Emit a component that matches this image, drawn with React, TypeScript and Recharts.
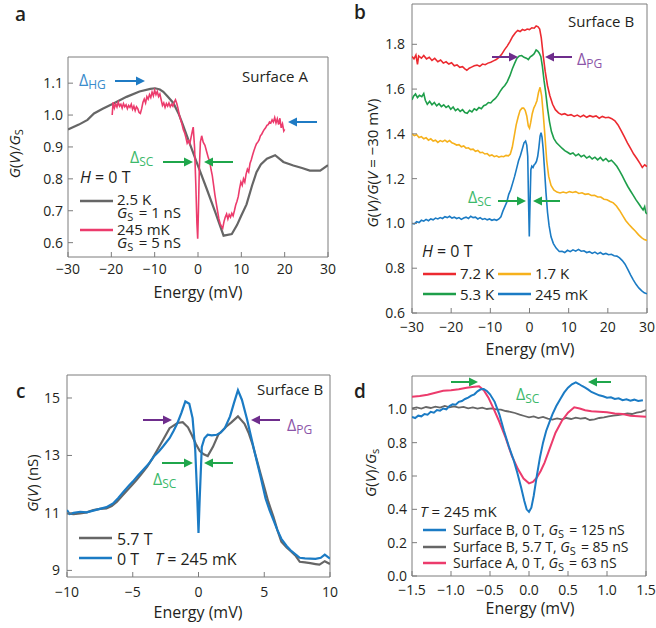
import React from 'react';
import { LineChart, Line, XAxis, YAxis, ReferenceArea } from 'recharts';

const FONT = '"Open Sans", "Noto Sans", sans-serif';
const AXIS = '#7c7c7c';
const INK = '#231f20';

const GRAY = '#666666';
const PINK = '#ec3b6c';
const RED = '#ec2a30';
const GREEN = '#1e9e4a';
const ORANGE = '#f6b11c';
const BLUE = '#1b7bc4';
const ARROW_GREEN = '#1fa64b';
const TEXT_GREEN = '#3cb96b';
const ARROW_PURPLE = '#6e2d8c';
const TEXT_PURPLE = '#8b55a8';
const ARROW_BLUE = '#1f7bc4';
const TEXT_BLUE = '#3a8ccc';

// panel a: Surface A, H = 0 T
const a25K = [[-30,0.955],[-27.5,0.97],[-25.5,0.985],[-24,1.005],[-22,1.02],[-19.5,1.036],[-16.5,1.057],[-13.5,1.074],[-11,1.082],[-9.9,1.084],[-8.8,1.08],[-8,1.073],[-7,1.058],[-5.7,1.038],[-4.5,1.005],[-3.5,0.97],[-2.6,0.936],[-0.3,0.852],[2,0.769],[4,0.695],[5.9,0.622],[7.8,0.627],[9,0.655],[10,0.685],[11.2,0.72],[12.5,0.78],[13.5,0.821],[14.5,0.845],[15.9,0.863],[17.8,0.874],[19.7,0.853],[22,0.842],[24,0.834],[25.8,0.826],[28.2,0.826],[30,0.843]];
const a245mK = [[-19.8,1.0],[-19.6,1.04],[-19.3,1.022],[-19,1.035],[-18.7,1.025],[-18.4,1.04],[-18.1,1.028],[-17.8,1.034],[-17.5,1.022],[-17.2,1.036],[-16.9,1.026],[-16.6,1.032],[-16.3,1.02],[-16,1.03],[-15.7,1.024],[-15.4,1.034],[-15.1,1.018],[-14.8,1.028],[-14.5,1.014],[-14.2,1.026],[-13.9,1.02],[-13.6,1.008],[-13.3,1.005],[-13,1.02],[-12.7,1.04],[-12.4,1.05],[-12.1,1.038],[-11.8,1.058],[-11.5,1.05],[-11.2,1.064],[-10.9,1.055],[-10.6,1.072],[-10.3,1.06],[-10,1.078],[-9.7,1.064],[-9.4,1.074],[-9.1,1.058],[-8.8,1.066],[-8.5,1.048],[-8.2,1.03],[-7.9,1.038],[-7.6,1.024],[-7.3,1.036],[-7,1.028],[-6.7,1.038],[-6.4,1.026],[-6.1,1.034],[-5.8,1.028],[-5.5,1.04],[-5.2,1.048],[-4.9,1.036],[-4.6,1.02],[-4.3,1.0],[-4,0.985],[-3.7,0.972],[-3.4,0.955],[-3.1,0.945],[-2.8,0.93],[-2.5,0.912],[-2.2,0.92],[-1.9,0.91],[-1.6,0.93],[-1.3,0.95],[-1.1,0.962],[-0.8,0.9],[-0.5,0.78],[-0.25,0.66],[-0.07,0.612],[0.1,0.7],[0.3,0.83],[0.55,0.915],[0.85,0.935],[1.2,0.915],[1.6,0.905],[2.0,0.885],[2.4,0.865],[2.7,0.855],[3.0,0.83],[3.3,0.81],[3.6,0.78],[3.9,0.75],[4.2,0.725],[4.5,0.7],[4.8,0.676],[5.1,0.66],[5.4,0.652],[5.7,0.645],[6.0,0.666],[6.3,0.68],[6.6,0.69],[6.9,0.674],[7.2,0.688],[7.5,0.68],[7.8,0.692],[8.1,0.684],[8.4,0.7],[8.7,0.718],[9.0,0.73],[9.3,0.745],[9.6,0.77],[9.9,0.79],[10.2,0.78],[10.5,0.8],[10.8,0.79],[11.1,0.815],[11.4,0.83],[11.7,0.822],[12,0.848],[12.3,0.86],[12.6,0.875],[12.9,0.888],[13.2,0.9],[13.5,0.91],[13.8,0.915],[14.1,0.922],[14.4,0.935],[14.7,0.94],[15,0.948],[15.3,0.955],[15.6,0.96],[15.9,0.968],[16.2,0.97],[16.5,0.978],[16.8,0.975],[17.1,0.985],[17.4,0.978],[17.7,0.992],[18,0.975],[18.3,0.988],[18.6,0.97],[18.9,0.99],[19.2,0.96],[19.5,0.972],[19.8,0.95],[20,0.955]];

// panel b: Surface B, temperature series
const b72K = [[-30,1.745],[-29.5,1.735],[-29,1.752],[-28.6,1.71],[-28.3,1.748],[-27.6,1.738],[-27,1.75],[-26.3,1.735],[-25.6,1.742],[-24.9,1.728],[-24.2,1.737],[-23.4,1.722],[-22.7,1.73],[-22,1.716],[-21.3,1.722],[-20.6,1.712],[-19.9,1.718],[-19.2,1.704],[-18.5,1.708],[-17.8,1.697],[-17.1,1.7],[-16.5,1.69],[-16,1.684],[-15.4,1.693],[-14.8,1.698],[-14.1,1.704],[-13.4,1.707],[-12.7,1.702],[-12,1.712],[-11.3,1.709],[-10.6,1.716],[-9.9,1.72],[-9.2,1.726],[-8.5,1.732],[-7.8,1.742],[-7.1,1.755],[-6.4,1.775],[-5.7,1.792],[-5,1.812],[-4.3,1.835],[-3.6,1.852],[-3,1.862],[-2.4,1.857],[-1.8,1.866],[-1.2,1.862],[-0.6,1.868],[0,1.866],[0.6,1.874],[1.2,1.872],[1.7,1.882],[2.2,1.878],[2.6,1.868],[3,1.83],[3.5,1.75],[4,1.68],[4.6,1.615],[5.2,1.57],[5.9,1.532],[6.6,1.508],[7.4,1.494],[8.2,1.486],[9,1.49],[9.8,1.482],[10.6,1.486],[11.4,1.478],[12.2,1.484],[13,1.476],[13.8,1.483],[14.6,1.474],[15.4,1.481],[16.2,1.476],[17,1.48],[17.8,1.47],[18.6,1.478],[19.4,1.472],[20.2,1.474],[21,1.468],[21.8,1.458],[22.6,1.44],[23.4,1.415],[24.2,1.388],[25,1.36],[25.8,1.335],[26.6,1.31],[27.4,1.29],[28.2,1.268],[28.8,1.25],[29.4,1.262],[30,1.254]];
const b53K = [[-30,1.552],[-29.6,1.568],[-29.1,1.578],[-28.6,1.562],[-28.1,1.572],[-27.5,1.566],[-27,1.58],[-26.6,1.55],[-26.1,1.532],[-25.5,1.545],[-24.9,1.53],[-24.3,1.54],[-23.7,1.525],[-23.1,1.535],[-22.5,1.522],[-21.9,1.53],[-21.3,1.518],[-20.7,1.525],[-20.1,1.51],[-19.5,1.52],[-18.9,1.504],[-18.3,1.512],[-17.7,1.5],[-17.1,1.508],[-16.5,1.495],[-15.9,1.492],[-15.3,1.505],[-14.7,1.498],[-14.1,1.512],[-13.5,1.506],[-12.9,1.518],[-12.3,1.512],[-11.7,1.526],[-11.1,1.53],[-10.5,1.54],[-9.9,1.538],[-9.3,1.55],[-8.7,1.558],[-8.1,1.572],[-7.5,1.59],[-6.9,1.605],[-6.3,1.616],[-5.7,1.632],[-5,1.66],[-4.4,1.69],[-3.8,1.715],[-3.2,1.738],[-2.6,1.748],[-2,1.75],[-1.4,1.742],[-0.8,1.738],[-0.3,1.732],[0.2,1.744],[0.7,1.75],[1.2,1.758],[1.7,1.775],[2.1,1.77],[2.5,1.76],[2.9,1.745],[3.3,1.7],[3.7,1.64],[4.1,1.59],[4.6,1.515],[5.1,1.455],[5.6,1.41],[6.2,1.38],[6.9,1.36],[7.6,1.348],[8.3,1.336],[9,1.325],[9.7,1.318],[10.4,1.31],[11.1,1.315],[11.8,1.302],[12.5,1.31],[13.2,1.298],[13.9,1.305],[14.6,1.292],[15.3,1.3],[16,1.288],[16.7,1.296],[17.4,1.284],[18.1,1.295],[18.8,1.28],[19.5,1.29],[20.2,1.276],[20.9,1.282],[21.6,1.27],[22.3,1.255],[23,1.235],[23.7,1.212],[24.4,1.188],[25.1,1.165],[25.8,1.145],[26.5,1.125],[27.2,1.105],[27.9,1.088],[28.5,1.072],[29,1.06],[29.4,1.075],[29.7,1.048],[30,1.042]];
const b17K = [[-30,1.4],[-29.4,1.392],[-28.8,1.396],[-28.2,1.384],[-27.6,1.388],[-27,1.378],[-26.4,1.383],[-25.8,1.372],[-25.2,1.378],[-24.6,1.368],[-24,1.372],[-23.4,1.362],[-22.8,1.37],[-22.2,1.365],[-21.6,1.372],[-21,1.364],[-20.4,1.37],[-19.8,1.36],[-19.2,1.356],[-18.6,1.35],[-18,1.352],[-17.4,1.342],[-16.8,1.346],[-16.2,1.336],[-15.6,1.338],[-15,1.33],[-14.4,1.332],[-13.8,1.322],[-13.2,1.326],[-12.6,1.316],[-12,1.318],[-11.4,1.31],[-10.8,1.312],[-10.2,1.302],[-9.6,1.306],[-9,1.298],[-8.4,1.302],[-7.8,1.296],[-7.2,1.3],[-6.6,1.298],[-6,1.304],[-5.4,1.302],[-4.9,1.31],[-4.4,1.34],[-3.9,1.39],[-3.4,1.44],[-2.9,1.475],[-2.4,1.505],[-1.9,1.515],[-1.5,1.515],[-1.1,1.505],[-0.7,1.48],[-0.3,1.435],[0,1.425],[0.3,1.45],[0.7,1.49],[1.1,1.515],[1.5,1.53],[1.9,1.548],[2.3,1.585],[2.7,1.608],[3.1,1.57],[3.5,1.49],[3.9,1.4],[4.4,1.28],[4.9,1.21],[5.5,1.17],[6.2,1.15],[7,1.14],[7.8,1.136],[8.6,1.14],[9.4,1.136],[10.2,1.142],[11,1.138],[11.8,1.142],[12.6,1.134],[13.4,1.137],[14.2,1.13],[15,1.132],[15.8,1.125],[16.6,1.126],[17.4,1.118],[18.2,1.118],[19,1.108],[19.8,1.106],[20.6,1.098],[21.4,1.092],[22.2,1.078],[23,1.058],[23.8,1.035],[24.6,1.012],[25.4,0.995],[26.2,0.98],[27,0.966],[27.8,0.95],[28.6,0.937],[29.3,0.928],[30,0.924]];
const b245mK = [[-30,1.0],[-29.4,0.998],[-28.8,1.008],[-28.2,1.004],[-27.6,1.014],[-27,1.01],[-26.4,1.018],[-25.8,1.012],[-25.2,1.02],[-24.6,1.016],[-24,1.024],[-23.4,1.02],[-22.8,1.026],[-22.2,1.022],[-21.6,1.03],[-21,1.026],[-20.4,1.032],[-19.8,1.024],[-19.2,1.028],[-18.6,1.022],[-18,1.026],[-17.4,1.018],[-16.8,1.024],[-16.2,1.028],[-15.6,1.022],[-15,1.032],[-14.4,1.026],[-13.8,1.028],[-13.2,1.02],[-12.6,1.026],[-12,1.018],[-11.4,1.022],[-10.8,1.016],[-10.2,1.02],[-9.6,1.014],[-9,1.018],[-8.4,1.014],[-7.8,1.02],[-7.3,1.03],[-6.8,1.055],[-6.3,1.075],[-5.8,1.095],[-5.3,1.13],[-4.8,1.15],[-4.3,1.18],[-3.8,1.21],[-3.3,1.245],[-2.8,1.28],[-2.3,1.305],[-1.8,1.335],[-1.4,1.36],[-1,1.368],[-0.7,1.35],[-0.45,1.3],[-0.25,1.1],[-0.05,0.942],[0.15,1.1],[0.35,1.24],[0.6,1.256],[0.9,1.25],[1.2,1.262],[1.5,1.268],[1.8,1.278],[2.1,1.3],[2.4,1.34],[2.7,1.39],[2.95,1.405],[3.2,1.385],[3.5,1.33],[3.8,1.25],[4.2,1.14],[4.6,1.05],[5.0,0.99],[5.5,0.94],[6.1,0.91],[6.8,0.89],[7.6,0.875],[8.3,0.876],[9,0.87],[9.7,0.88],[10.4,0.874],[11.1,0.882],[11.8,0.876],[12.5,0.884],[13.2,0.876],[13.9,0.878],[14.6,0.87],[15.3,0.874],[16,0.866],[16.7,0.872],[17.4,0.864],[18.1,0.87],[18.8,0.862],[19.5,0.866],[20.2,0.86],[20.9,0.862],[21.6,0.856],[22.3,0.854],[23,0.846],[23.7,0.834],[24.4,0.818],[25.1,0.795],[25.8,0.77],[26.5,0.748],[27.2,0.728],[27.9,0.712],[28.6,0.7],[29.3,0.69],[30,0.686]];

// panel c: Surface B, T = 245 mK, field series (nS)
const c57T = [[-10,10.98],[-9.5,10.96],[-9,10.98],[-8.5,11.02],[-8,11.1],[-7.5,11.14],[-7,11.16],[-6.6,11.24],[-6.2,11.39],[-5.8,11.6],[-5.4,11.8],[-5,12.0],[-4.7,12.15],[-4.3,12.38],[-3.9,12.61],[-3.5,12.9],[-3.2,13.14],[-2.7,13.54],[-2.2,13.95],[-1.6,14.13],[-1.2,14.16],[-0.8,13.98],[-0.5,13.7],[-0.2,13.4],[0.1,13.15],[0.4,13.04],[0.7,12.98],[1.1,13.3],[1.5,13.72],[2.1,14.0],[2.5,14.15],[3,14.36],[3.5,14.1],[3.8,13.8],[4.1,13.4],[4.4,12.9],[4.7,12.4],[5.0,11.9],[5.3,11.4],[5.7,10.86],[6.0,10.4],[6.3,10.0],[6.7,9.8],[7.0,9.68],[7.4,9.5],[7.7,9.3],[8.1,9.28],[8.5,9.25],[8.9,9.22],[9.2,9.2],[9.6,9.32],[10,9.22]];
const c0T = [[-10,11.1],[-9.8,10.96],[-9.5,11.0],[-9,11.04],[-8.5,11.02],[-8,11.08],[-7.5,11.14],[-7,11.2],[-6.5,11.33],[-6.1,11.52],[-5.7,11.74],[-5.3,11.95],[-5,12.09],[-4.6,12.3],[-4.2,12.5],[-3.8,12.7],[-3.4,12.96],[-3,13.15],[-2.7,13.31],[-2.2,13.6],[-1.9,13.85],[-1.6,14.13],[-1.3,14.48],[-1.0,14.88],[-0.7,14.8],[-0.45,14.3],[-0.25,13.2],[-0.1,11.6],[0,10.3],[0.1,11.6],[0.25,13.3],[0.45,13.6],[0.7,13.72],[1.0,13.7],[1.4,13.72],[1.7,13.8],[2.0,13.95],[2.4,14.36],[2.7,14.83],[3.0,15.27],[3.3,14.94],[3.7,14.24],[4.0,13.65],[4.3,13.05],[4.7,12.3],[5.1,11.5],[5.4,11.1],[5.7,10.75],[6.0,10.4],[6.3,10.1],[6.7,9.85],[7.0,9.7],[7.4,9.55],[7.7,9.44],[8.1,9.42],[8.5,9.41],[8.9,9.4],[9.3,9.44],[9.6,9.55],[9.8,9.48],[10,9.41]];

// panel d: normalized, T = 245 mK
const dB0T = [[-1.5,0.955],[-1.46,0.948],[-1.42,0.962],[-1.38,0.958],[-1.34,0.972],[-1.3,0.968],[-1.26,0.985],[-1.22,0.98],[-1.18,0.996],[-1.14,0.992],[-1.1,1.005],[-1.06,1.0],[-1.02,1.02],[-0.98,1.03],[-0.94,1.028],[-0.9,1.045],[-0.86,1.05],[-0.82,1.062],[-0.78,1.07],[-0.74,1.082],[-0.7,1.09],[-0.66,1.108],[-0.62,1.12],[-0.58,1.122],[-0.54,1.11],[-0.5,1.09],[-0.44,1.045],[-0.38,0.97],[-0.32,0.87],[-0.26,0.78],[-0.2,0.7],[-0.15,0.62],[-0.1,0.53],[-0.06,0.45],[-0.03,0.4],[0,0.385],[0.03,0.41],[0.06,0.48],[0.1,0.6],[0.14,0.71],[0.18,0.8],[0.22,0.87],[0.26,0.92],[0.3,0.97],[0.35,1.02],[0.4,1.06],[0.45,1.1],[0.5,1.13],[0.55,1.15],[0.6,1.162],[0.64,1.152],[0.68,1.14],[0.72,1.13],[0.76,1.118],[0.8,1.104],[0.85,1.094],[0.9,1.084],[0.95,1.078],[1.0,1.07],[1.05,1.072],[1.1,1.062],[1.15,1.066],[1.2,1.055],[1.25,1.06],[1.3,1.052],[1.35,1.058],[1.4,1.05],[1.46,1.055]];
const dB57T = [[-1.5,1.005],[-1.44,1.012],[-1.38,1.004],[-1.32,1.014],[-1.26,1.008],[-1.2,1.016],[-1.14,1.01],[-1.08,1.02],[-1.02,1.012],[-0.96,1.018],[-0.9,1.01],[-0.84,1.015],[-0.78,1.006],[-0.72,1.012],[-0.66,1.004],[-0.6,1.01],[-0.54,1.002],[-0.48,1.006],[-0.42,1.0],[-0.36,0.998],[-0.3,0.99],[-0.24,0.985],[-0.18,0.978],[-0.12,0.968],[-0.06,0.96],[0,0.952],[0.06,0.958],[0.12,0.948],[0.18,0.955],[0.24,0.944],[0.3,0.938],[0.36,0.946],[0.42,0.94],[0.48,0.948],[0.54,0.942],[0.6,0.95],[0.66,0.944],[0.72,0.948],[0.78,0.936],[0.84,0.94],[0.9,0.948],[0.96,0.952],[1.02,0.958],[1.08,0.962],[1.14,0.966],[1.2,0.97],[1.26,0.975],[1.32,0.972],[1.38,0.98],[1.44,0.985],[1.5,0.995]];
const dA0T = [[-1.5,1.075],[-1.4,1.08],[-1.3,1.088],[-1.2,1.1],[-1.1,1.112],[-1.0,1.115],[-0.9,1.12],[-0.8,1.13],[-0.7,1.135],[-0.64,1.138],[-0.58,1.115],[-0.52,1.07],[-0.46,1.01],[-0.39,0.936],[-0.3,0.83],[-0.22,0.72],[-0.14,0.64],[-0.07,0.585],[0,0.556],[0.05,0.565],[0.1,0.59],[0.15,0.63],[0.2,0.68],[0.27,0.77],[0.34,0.86],[0.42,0.93],[0.5,0.98],[0.58,1.012],[0.65,1.005],[0.72,0.995],[0.8,0.988],[0.9,0.985],[1.0,0.982],[1.1,0.975],[1.2,0.972],[1.3,0.962],[1.4,0.958],[1.5,0.955]];

const aXTicks = [-30, -20, -10, 0, 10, 20, 30];
const aYTicks = [0.6, 0.7, 0.8, 0.9, 1.0, 1.1];
const bXTicks = [-30, -20, -10, 0, 10, 20, 30];
const bYTicks = [0.6, 0.8, 1.0, 1.2, 1.4, 1.6, 1.8];
const cXTicks = [-10, -5, 0, 5, 10];
const cYTicks = [9, 11, 13, 15];
const dXTicks = [-1.5, -1.0, -0.5, 0, 0.5, 1.0, 1.5];
const dYTicks = [0, 0.2, 0.4, 0.6, 0.8, 1.0];

const pts = (arr: number[][]) => arr.map(([x, y]) => ({ x, y }));
const fmt = (v: number, d: number) => (v < 0 ? '\u2212' : '') + Math.abs(v).toFixed(d);

function XTick(props: any) {
  const { x, y, payload, dec, dy } = props;
  return (
    <g>
      <line x1={x} x2={x} y1={y} y2={y - 5} stroke={AXIS} />
      <text x={x} y={y + dy} textAnchor="middle" fontSize={14} fontFamily={FONT} fill={INK}>
        {fmt(payload.value, dec)}
      </text>
    </g>
  );
}

function YTick(props: any) {
  const { x, y, payload, dec, gap } = props;
  return (
    <g>
      <line x1={x} x2={x + 5} y1={y} y2={y} stroke={AXIS} />
      <text x={x - gap} y={y + 5} textAnchor="end" fontSize={14} fontFamily={FONT} fill={INK}>
        {fmt(payload.value, dec)}
      </text>
    </g>
  );
}

type Series = { name: string; data: number[][]; color: string; width?: number };

function Panel(p: any) {
  const s: Series[] = p.series;
  return (
    <div style={{ position: 'absolute', left: p.left, top: p.top }}>
      <LineChart width={p.width} height={p.height} margin={p.margin}>
        <XAxis
          type="number"
          dataKey="x"
          domain={p.xDomain}
          ticks={p.xTicks}
          interval={0}
          height={p.xHeight}
          axisLine={false}
          tickLine={false}
          tickSize={0}
          tickMargin={0}
          allowDataOverflow
          tick={(t: any) => <XTick {...t} dec={p.xDec} dy={p.xDy} />}
        />
        <YAxis
          type="number"
          dataKey="y"
          domain={p.yDomain}
          ticks={p.yTicks}
          interval={0}
          width={p.yWidth}
          axisLine={false}
          tickLine={false}
          tickSize={0}
          tickMargin={0}
          allowDataOverflow
          tick={(t: any) => <YTick {...t} dec={p.yDec} gap={p.yGap} />}
        />
        <ReferenceArea
          x1={p.xDomain[0]}
          x2={p.xDomain[1]}
          y1={p.yDomain[0]}
          y2={p.yDomain[1]}
          fill="none"
          stroke={AXIS}
          strokeWidth={1}
          ifOverflow="visible"
        />
        {s.map((ser) => (
          <Line
            key={ser.name}
            name={ser.name}
            data={pts(ser.data)}
            dataKey="y"
            type="linear"
            stroke={ser.color}
            strokeWidth={ser.width ?? 2}
            dot={false}
            activeDot={false}
            isAnimationActive={false}
          />
        ))}
      </LineChart>
    </div>
  );
}

function Arrow({ from, to, y, color }: { from: number; to: number; y: number; color: string }) {
  const dir = to > from ? 1 : -1;
  const head = 9;
  return (
    <g>
      <line x1={from} x2={to - dir * head} y1={y} y2={y} stroke={color} strokeWidth={2} />
      <polygon points={`${to},${y} ${to - dir * head},${y - 4.5} ${to - dir * head},${y + 4.5}`} fill={color} />
    </g>
  );
}

function Delta({ x, y, sub, color }: { x: number; y: number; sub: string; color: string }) {
  return (
    <text x={x} y={y} fill={color} fontSize={16} fontFamily={FONT}>
      Δ<tspan fontSize={12} dy={3}>{sub}</tspan>
    </text>
  );
}

function LegendLine({ x, y, color }: { x: number; y: number; color: string }) {
  return <line x1={x} x2={x + 33} y1={y} y2={y} stroke={color} strokeWidth={2.5} />;
}

const T = (props: any) => <text fontFamily={FONT} fill={INK} {...props} />;
const It = ({ children }: any) => <tspan fontStyle="italic">{children}</tspan>;
const Gs = ({ s = 'S' }: { s?: string }) => (
  <>
    <It>G</It>
    <tspan fontSize={11} dy={3}>{s}</tspan>
    <tspan dy={-3}>{'\u200a'}</tspan>
  </>
);

function Overlay() {
  return (
    <svg width={656} height={628} style={{ position: 'absolute', left: 0, top: 0, pointerEvents: 'none' }}>
      {/* panel letters */}
      <T x={15} y={21} fontSize={19} fontWeight={600}>a</T>
      <T x={354} y={19} fontSize={19} fontWeight={600}>b</T>
      <T x={16} y={398} fontSize={19} fontWeight={600}>c</T>
      <T x={354} y={398} fontSize={19} fontWeight={600}>d</T>

      {/* axis titles */}
      <T x={198} y={298} fontSize={16} textAnchor="middle">Energy (mV)</T>
      <T x={530} y={355} fontSize={16} textAnchor="middle">Energy (mV)</T>
      <T x={198} y={618} fontSize={16} textAnchor="middle">Energy (mV)</T>
      <T x={530} y={614} fontSize={16} textAnchor="middle">Energy (mV)</T>

      <T fontSize={15} textAnchor="middle" transform="translate(20,153) rotate(-90)">
        <It>G</It>(<It>V</It>)/<Gs />
      </T>
      <T fontSize={15} textAnchor="middle" transform="translate(378,163) rotate(-90)">
        <It>G</It>(<It>V</It>)/<It>G</It>(<It>V</It> = {'\u2212'}30 mV)
      </T>
      <T fontSize={15} textAnchor="middle" transform="translate(38,483) rotate(-90)">
        <It>G</It>(<It>V</It>) (nS)
      </T>
      <T fontSize={15} textAnchor="middle" transform="translate(376,472) rotate(-90)">
        <It>G</It>(<It>V</It>)/<Gs s="s" />
      </T>

      {/* panel a */}
      <T x={242} y={82} fontSize={15}>Surface A</T>
      <Delta x={79} y={86} sub="HG" color={TEXT_BLUE} />
      <Arrow from={115} to={145} y={81} color={ARROW_BLUE} />
      <Arrow from={317} to={288} y={122} color={ARROW_BLUE} />
      <Delta x={130} y={163} sub="SC" color={TEXT_GREEN} />
      <Arrow from={163} to={193} y={162} color={ARROW_GREEN} />
      <Arrow from={233} to={204} y={162} color={ARROW_GREEN} />
      <T x={80} y={183} fontSize={16}><It>H</It> = 0 T</T>
      <LegendLine x={80} y={201} color={GRAY} />
      <T x={117} y={205} fontSize={15}>2.5 K</T>
      <T x={117} y={218} fontSize={15}><Gs /> = 1 nS</T>
      <LegendLine x={80} y={230} color={PINK} />
      <T x={117} y={235} fontSize={15}>245 mK</T>
      <T x={117} y={248} fontSize={15}><Gs /> = 5 nS</T>

      {/* panel b */}
      <T x={568} y={27} fontSize={15}>Surface B</T>
      <Arrow from={492} to={518} y={57} color={ARROW_PURPLE} />
      <Arrow from={572} to={545} y={57} color={ARROW_PURPLE} />
      <Delta x={577} y={65} sub="PG" color={TEXT_PURPLE} />
      <Delta x={468} y={203} sub="SC" color={TEXT_GREEN} />
      <Arrow from={498} to={526} y={201} color={ARROW_GREEN} />
      <Arrow from={560} to={533} y={201} color={ARROW_GREEN} />
      <T x={422} y={257} fontSize={16}><It>H</It> = 0 T</T>
      <LegendLine x={423} y={274} color={RED} />
      <T x={460} y={279} fontSize={15}>7.2 K</T>
      <LegendLine x={498} y={274} color={ORANGE} />
      <T x={535} y={279} fontSize={15}>1.7 K</T>
      <LegendLine x={423} y={294} color={GREEN} />
      <T x={460} y={300} fontSize={15}>5.3 K</T>
      <LegendLine x={498} y={294} color={BLUE} />
      <T x={535} y={300} fontSize={15}>245 mK</T>

      {/* panel c */}
      <T x={257} y={395} fontSize={15}>Surface B</T>
      <Arrow from={143} to={172} y={420} color={ARROW_PURPLE} />
      <Arrow from={280} to={251} y={420} color={ARROW_PURPLE} />
      <Delta x={287} y={431} sub="PG" color={TEXT_PURPLE} />
      <Arrow from={162} to={193} y={463} color={ARROW_GREEN} />
      <Arrow from={233} to={204} y={463} color={ARROW_GREEN} />
      <Delta x={153} y={485} sub="SC" color={TEXT_GREEN} />
      <LegendLine x={79} y={538} color={GRAY} />
      <T x={117} y={545} fontSize={16}>5.7 T</T>
      <LegendLine x={79} y={558} color={BLUE} />
      <T x={117} y={565} fontSize={16}>0 T</T>
      <T x={155} y={565} fontSize={16}><It>T</It> = 245 mK</T>

      {/* panel d */}
      <Arrow from={451} to={478} y={382} color={ARROW_GREEN} />
      <Arrow from={611} to={588} y={382} color={ARROW_GREEN} />
      <Delta x={516} y={400} sub="SC" color={TEXT_GREEN} />
      <T x={420} y={517} fontSize={15}><It>T</It> = 245 mK</T>
      <line x1={423} x2={446} y1={530} y2={530} stroke={BLUE} strokeWidth={2.5} />
      <T x={453} y={535} fontSize={14}>Surface B, 0 T, <Gs /> = 125 nS</T>
      <line x1={423} x2={446} y1={547} y2={547} stroke={GRAY} strokeWidth={2.5} />
      <T x={453} y={552} fontSize={14}>Surface B, 5.7 T, <Gs /> = 85 nS</T>
      <line x1={423} x2={446} y1={563} y2={563} stroke={PINK} strokeWidth={2.5} />
      <T x={453} y={568} fontSize={14}>Surface A, 0 T, <Gs /> = 63 nS</T>
    </svg>
  );
}

export default function App() {
  return (
    <div style={{ position: 'fixed', left: 0, top: 0, width: 656, height: 628, background: '#fff', overflow: 'hidden' }}>
      <Panel
        left={0} top={0} width={345} height={305}
        margin={{ top: 57, right: 17, bottom: 0, left: 0 }}
        yWidth={68} xHeight={48}
        xDomain={[-30, 30]} yDomain={[0.555, 1.182]}
        xTicks={aXTicks} yTicks={aYTicks} xDec={0} yDec={1} xDy={17} yGap={5}
        series={[
          { name: '2.5 K', data: a25K, color: GRAY, width: 2.2 },
          { name: '245 mK', data: a245mK, color: PINK, width: 1.6 },
        ]}
      />
      <Panel
        left={330} top={0} width={326} height={340}
        margin={{ top: 4, right: 9, bottom: 0, left: 0 }}
        yWidth={82} xHeight={27}
        xDomain={[-30, 30]} yDomain={[0.6, 1.98]}
        xTicks={bXTicks} yTicks={bYTicks} xDec={0} yDec={1} xDy={19} yGap={7}
        series={[
          { name: '7.2 K', data: b72K, color: RED, width: 1.6 },
          { name: '5.3 K', data: b53K, color: GREEN, width: 1.6 },
          { name: '1.7 K', data: b17K, color: ORANGE, width: 1.6 },
          { name: '245 mK', data: b245mK, color: BLUE, width: 1.6 },
        ]}
      />
      <Panel
        left={0} top={330} width={345} height={298}
        margin={{ top: 45, right: 15, bottom: 0, left: 0 }}
        yWidth={67} xHeight={51}
        xDomain={[-10, 10]} yDomain={[8.77, 15.8]}
        xTicks={cXTicks} yTicks={cYTicks} xDec={0} yDec={0} xDy={20} yGap={7}
        series={[
          { name: '5.7 T', data: c57T, color: GRAY, width: 2.2 },
          { name: '0 T', data: c0T, color: BLUE, width: 2.2 },
        ]}
      />
      <Panel
        left={330} top={330} width={326} height={298}
        margin={{ top: 46, right: 10, bottom: 0, left: 0 }}
        yWidth={82} xHeight={52}
        xDomain={[-1.5, 1.5]} yDomain={[0, 1.2]}
        xTicks={dXTicks} yTicks={dYTicks} xDec={1} yDec={1} xDy={19} yGap={5}
        series={[
          { name: 'Surface B, 5.7 T', data: dB57T, color: GRAY, width: 1.8 },
          { name: 'Surface A, 0 T', data: dA0T, color: PINK, width: 2 },
          { name: 'Surface B, 0 T', data: dB0T, color: BLUE, width: 2 },
        ]}
      />
      <Overlay />
    </div>
  );
}
